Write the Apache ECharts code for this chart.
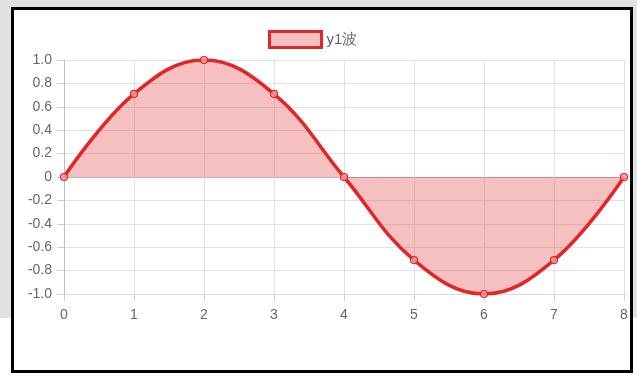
<!DOCTYPE html>
<html>
<head>
<meta charset="utf-8">
<script src="https://cdn.jsdelivr.net/npm/echarts@6/dist/echarts.min.js"></script>
<style>
html,body{margin:0;padding:0;width:637px;height:373px;overflow:hidden;background:#fff;}
#bgGray{position:absolute;left:0;top:0;width:637px;height:318px;background:#e1e2e4;}
#frame{position:absolute;left:11px;top:7px;width:616px;height:360px;border:3px solid #000;background:#fff;}
#chart{position:absolute;left:0;top:0;width:637px;height:373px;}
</style>
</head>
<body>
<div id="bgGray"></div>
<div id="frame"></div>
<div id="chart"></div>
<script>
var seriesName = 'y1波';
var xValues = [0, 1, 2, 3, 4, 5, 6, 7, 8];
var yValues = [0, 0.71, 1, 0.71, 0, -0.71, -1, -0.71, 0];
var yTickLabels = ['-1.0', '-0.8', '-0.6', '-0.4', '-0.2', '0', '0.2', '0.4', '0.6', '0.8', '1.0'];
var xTickLabels = ['0', '1', '2', '3', '4', '5', '6', '7', '8'];

var red = '#e02626';
var fill = 'rgba(228,60,60,0.32)';
var labelFont = {color: '#666', fontSize: 14, fontFamily: 'Liberation Sans, Arial, sans-serif'};

var splitColors = yTickLabels.map(function (t) { return t === '0' ? '#b8b8b8' : '#e2e2e2'; });

var chart = echarts.init(document.getElementById('chart'), null, {renderer: 'canvas'});
chart.setOption({
  backgroundColor: 'transparent',
  animation: false,
  legend: {
    data: [seriesName],
    left: 268, top: 30,
    padding: 0,
    icon: 'rect',
    itemWidth: 52, itemHeight: 16,
    itemGap: 6,
    textStyle: {color: '#666', fontSize: 15, fontFamily: 'Liberation Sans, Arial, sans-serif'},
    itemStyle: {color: fill, borderColor: red, borderWidth: 3}
  },
  grid: {left: 64, right: 13, top: 60, bottom: 79, containLabel: false},
  xAxis: {
    type: 'value', min: 0, max: 8, interval: 1,
    axisLine: {show: true, onZero: false, lineStyle: {color: '#dcdcdc'}},
    axisTick: {show: true, length: 7, lineStyle: {color: '#d0d0d0'}},
    splitLine: {show: true, lineStyle: {color: '#e2e2e2', width: 1}},
    axisLabel: Object.assign({margin: 14, formatter: function (v) { return xTickLabels[Math.round(v)]; }}, labelFont)
  },
  yAxis: {
    type: 'value', min: -1, max: 1, interval: 0.2,
    axisLine: {show: true, lineStyle: {color: '#bdbdbd'}},
    axisTick: {show: true, length: 7, lineStyle: {color: '#d0d0d0'}},
    splitLine: {show: true, lineStyle: {color: splitColors, width: 1}},
    axisLabel: Object.assign({margin: 12, formatter: function (v) { return yTickLabels[Math.round((v + 1) / 0.2)]; }}, labelFont)
  },
  series: [{
    name: seriesName,
    type: 'line',
    smooth: 0.4,
    data: xValues.map(function (x, i) { return [x, yValues[i]]; }),
    symbol: 'circle',
    symbolSize: 7,
    showSymbol: true,
    lineStyle: {color: red, width: 3.5},
    itemStyle: {color: 'rgba(240,160,160,0.8)', borderColor: red, borderWidth: 1.2},
    areaStyle: {color: fill, opacity: 1, origin: 0}
  }]
});
</script>
</body>
</html>
